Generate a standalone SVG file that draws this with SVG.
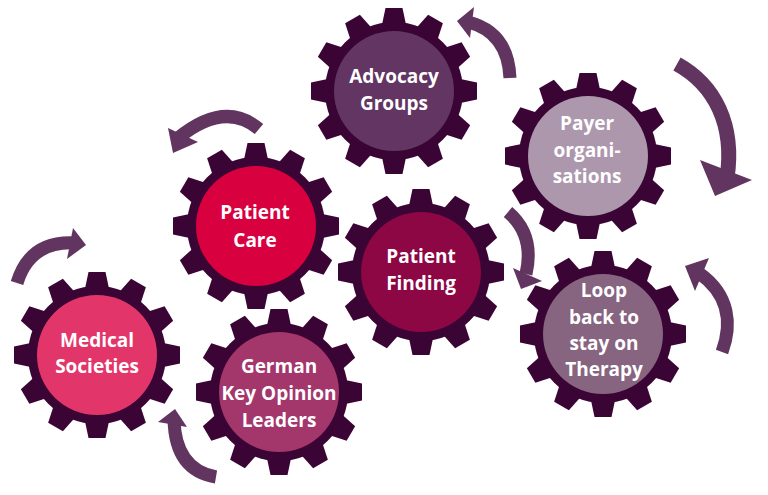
<svg xmlns="http://www.w3.org/2000/svg" xmlns:xlink="http://www.w3.org/1999/xlink" width="768" height="495" viewBox="0 0 768 495">
<style>
.gear{fill:#3a0434}
.lbl{font-family:"Open Sans","Liberation Sans",sans-serif;font-weight:700;font-size:19px;fill:#ffffff;text-anchor:middle}
.band{fill:none;stroke:#623560;stroke-width:13}
.band.big{stroke-width:15}
.head{fill:#623560}
</style>
<defs>
<polygon id="tooth" points="-12.5,-64 -8.5,-83 8.5,-83 12.5,-64"/>
<g id="gear" class="gear">
<circle r="69"/>
<use href="#tooth"/>
<use href="#tooth" transform="rotate(30)"/>
<use href="#tooth" transform="rotate(60)"/>
<use href="#tooth" transform="rotate(90)"/>
<use href="#tooth" transform="rotate(120)"/>
<use href="#tooth" transform="rotate(150)"/>
<use href="#tooth" transform="rotate(180)"/>
<use href="#tooth" transform="rotate(210)"/>
<use href="#tooth" transform="rotate(240)"/>
<use href="#tooth" transform="rotate(270)"/>
<use href="#tooth" transform="rotate(300)"/>
<use href="#tooth" transform="rotate(330)"/>
</g>
</defs>
<rect width="768" height="495" fill="#ffffff"/>

<g id="connectors">
<path class="band" d="M510 78 Q508 32 468 22"/>
<polygon class="head" points="474,7 457,21 470,38"/>
<path class="band" d="M259 129 Q225 100 178 138"/>
<polygon class="head" points="168,128 198,142 173,153"/>
<path class="band" d="M17 283 Q30 240 76 243"/>
<polygon class="head" points="73,228 67,259 86,245"/>
<path class="band" d="M216 477 Q175 470 174 419"/>
<polygon class="head" points="158,422 187,427 175,409"/>
<path class="band" d="M508 212 Q535 235 526 274"/>
<polygon class="head" points="513,268 542,281 521,289"/>
<path class="band" d="M722 352 C732 325 730 295 699 273"/>
<polygon class="head" points="685,266 709,258 695,291"/>
<path class="band big" d="M677 64 C715 85 735 125 727 178"/>
<polygon class="head" points="700,160 752,180 715,196"/>
</g>

<g id="advocacy" transform="translate(394,91)">
<use href="#gear"/><circle r="60" fill="#623562"/>
<text class="lbl" y="-8">Advocacy</text><text class="lbl" y="19">Groups</text>
</g>
<g id="payer" transform="translate(588,156)">
<use href="#gear"/><circle r="60" fill="#ad97ad"/>
<text class="lbl" x="-1" y="-26">Payer</text><text class="lbl" x="-1" y="1">organi-</text><text class="lbl" x="-1" y="27">sations</text>
</g>
<g id="patient-care" transform="translate(256,226)">
<use href="#gear"/><circle r="60" fill="#d9003f"/>
<text class="lbl" x="-1" y="-7">Patient</text><text class="lbl" x="-1" y="21">Care</text>
</g>
<g id="patient-finding" transform="translate(421,272)">
<use href="#gear"/><circle r="60" fill="#8c0744"/>
<text class="lbl" y="-9">Patient</text><text class="lbl" y="18">Finding</text>
</g>
<g id="loop" transform="translate(603,334)">
<use href="#gear"/><circle r="60" fill="#876480"/>
<text class="lbl" x="1" y="-37">Loop</text><text class="lbl" x="1" y="-10">back to</text><text class="lbl" x="1" y="16">stay on</text><text class="lbl" x="1" y="42">Therapy</text>
</g>
<g id="medical" transform="translate(97,355)">
<use href="#gear"/><circle r="60" fill="#e2366a"/>
<text class="lbl" y="-8">Medical</text><text class="lbl" y="18">Societies</text>
</g>
<g id="german-kol" transform="translate(279,392)">
<use href="#gear"/><circle r="60" fill="#a3366b"/>
<text class="lbl" y="-19">German</text><text class="lbl" y="8">Key Opinion</text><text class="lbl" y="35">Leaders</text>
</g>
</svg>
